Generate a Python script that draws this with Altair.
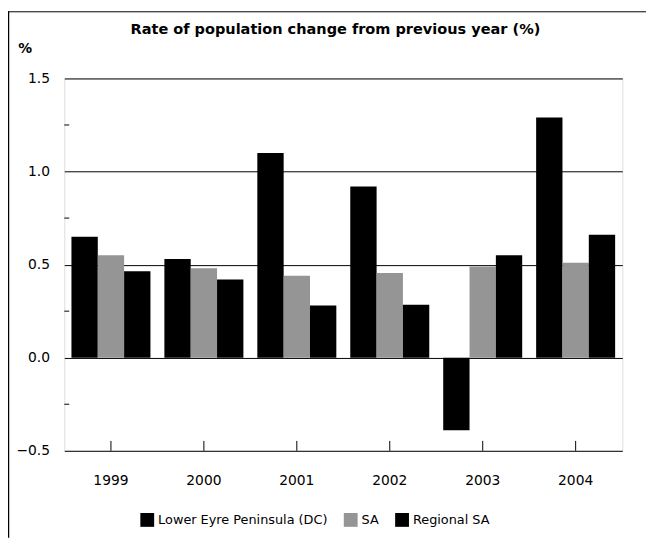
import altair as alt
import pandas as pd

years = ["1999", "2000", "2001", "2002", "2003", "2004"]
series_names = ["Lower Eyre Peninsula (DC)", "SA", "Regional SA"]
lower_eyre = [0.65, 0.53, 1.10, 0.92, -0.39, 1.29]
sa = [0.55, 0.48, 0.44, 0.455, 0.49, 0.51]
regional_sa = [0.465, 0.42, 0.28, 0.285, 0.55, 0.66]
series_colors = ["#000000", "#959595", "#000000"]
y_ticks = [-0.5, 0.0, 0.5, 1.0, 1.5]
minor_ticks = [1.25, 0.75, 0.25, -0.25]

rows = []
for name, vals in zip(series_names, [lower_eyre, sa, regional_sa]):
    for yr, v in zip(years, vals):
        rows.append({"year": yr, "series": name, "value": v})
df = pd.DataFrame(rows)

W, H = 565, 377
FONT = "DejaVu Sans"

x_scale = alt.Scale(domain=years, paddingInner=0.15, paddingOuter=0.077)
y_scale = alt.Scale(domain=[-0.5, 1.5], nice=False, zero=False)

bars = alt.Chart(df).mark_bar().encode(
    x=alt.X("year:N", scale=x_scale, sort=years,
            axis=alt.Axis(title=None, ticks=False, domain=False, labelAngle=0,
                          labelFont=FONT, labelFontSize=14, labelColor="black",
                          labelPadding=23)),
    xOffset=alt.XOffset("series:N", sort=series_names,
                        scale=alt.Scale(domain=series_names, paddingInner=0, paddingOuter=0)),
    y=alt.Y("value:Q", scale=y_scale,
            axis=alt.Axis(values=y_ticks, format=".1f", title="%", titleAngle=0,
                          titleX=-47, titleY=-30, titleAlign="left",
                          titleBaseline="middle", titleFont=FONT, titleFontSize=14,
                          titleFontWeight="bold", titleColor="black",
                          ticks=False, domain=False, grid=True, gridColor="black",
                          gridOpacity=1, gridWidth=1,
                          labelFont=FONT, labelFontSize=14, labelColor="black",
                          labelPadding=15)),
    color=alt.Color("series:N",
                    scale=alt.Scale(domain=series_names, range=series_colors),
                    legend=alt.Legend(title=None, orient="none", legendX=77, legendY=440,
                                      direction="horizontal", symbolType="square",
                                      symbolSize=196, symbolStrokeWidth=0,
                                      symbolOpacity=1, labelLimit=0,
                                      labelFont=FONT, labelFontSize=13,
                                      labelColor="black", columnPadding=16,
                                      labelOffset=4, padding=0)),
)

minor = alt.Chart(pd.DataFrame({"v": minor_ticks})).mark_rule(color="black").encode(
    y=alt.Y("v:Q", scale=y_scale),
    x=alt.value(0),
    x2=alt.value(5),
)

xticks = alt.Chart(pd.DataFrame({"year": years})).mark_rule(color="black").encode(
    x=alt.X("year:N", scale=x_scale, sort=years, bandPosition=0.5),
    y=alt.value(H),
    y2=alt.value(H - 10),
)

border_left = alt.Chart(pd.DataFrame({"a": [0]})).mark_rule(color="black", strokeWidth=1.5).encode(
    x=alt.value(-56.5), y=alt.value(-68), y2=alt.value(H + 88)
)
border_top = alt.Chart(pd.DataFrame({"a": [0]})).mark_rule(color="black", strokeWidth=1).encode(
    x=alt.value(-57), x2=alt.value(W + 24), y=alt.value(-67.5)
)

chart = alt.layer(bars, minor, xticks, border_left, border_top).properties(
    width=W, height=H,
    autosize=alt.AutoSizeParams(type="none"),
    padding={"left": 57, "top": 68, "right": 24, "bottom": 88},
    title=alt.TitleParams("Rate of population change from previous year (%)",
                          font=FONT, fontSize=14.7, fontWeight="bold", color="black",
                          anchor="middle", frame="group", offset=8, dy=46, dx=-8,
                          baseline="alphabetic"),
).configure_view(stroke="black", strokeWidth=1).configure(background="white")

chart.save("out.html", embed_options={"renderer": "svg", "actions": False})
